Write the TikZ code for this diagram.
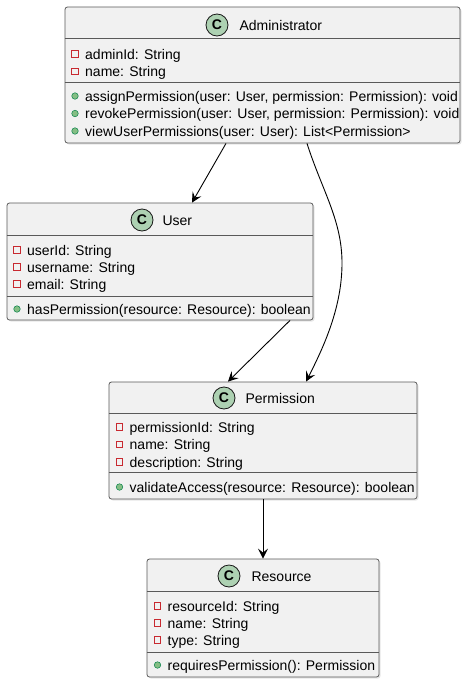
\documentclass[tikz,border=0pt]{standalone}
\usepackage{fontspec}
\setmainfont{Liberation Sans}
\usetikzlibrary{arrows.meta, positioning, shadows}

\definecolor{boxfill}{HTML}{F1F1F1}
\definecolor{boxline}{HTML}{181818}
\definecolor{iconfill}{HTML}{ADD1B2}
\definecolor{privred}{HTML}{C82930}
\definecolor{pubfill}{HTML}{84BE84}
\definecolor{publine}{HTML}{038048}

\begin{document}
\begin{tikzpicture}[
    x=1pt, y=-1pt,
    font=\fontsize{14}{16}\selectfont,
    classbox/.style={
        draw=black!65,
        fill=boxfill,
        line width=0.8pt,
        rounded corners=2.5pt,
        inner sep=0pt,
        drop shadow={shadow xshift=1.5pt, shadow yshift=-1.5pt, opacity=0.2}
    },
    sepline/.style={draw=black!65, line width=0.8pt},
    classicon/.style={
        circle,
        draw=boxline,
        fill=iconfill,
        line width=0.8pt,
        minimum size=22pt,
        inner sep=0pt,
        font=\fontsize{14}{16}\selectfont\bfseries
    },
    member/.style={anchor=west, inner sep=0pt, text height=10pt, text depth=0pt},
    privmark/.style={draw=privred, line width=0.7pt, minimum size=6.5pt, inner sep=0pt},
    pubmark/.style={circle, draw=publine, fill=pubfill, line width=0.5pt, minimum size=6.5pt, inner sep=0pt},
    assoc/.style={
        -{Stealth[length=10pt, width=10pt, inset=4pt]},
        line width=0.9pt,
        draw=black
    }
]
    \useasboundingbox (0,0) rectangle (468,683);

    % --- A. ADMINISTRATOR (Top) ---
    \node[classbox, minimum width=395pt, minimum height=136pt] (admin) at (262.5,75) {};
    \draw[sepline] (admin.west |- 0,38) -- (admin.east |- 0,38);
    \draw[sepline] (admin.west |- 0,82) -- (admin.east |- 0,82);
    \node[classicon] (adminicon) at (217,25) {C};
    \node[member, right=11pt of adminicon] (adminname) {Administrator};

    \node[privmark] (adminm1) at (75,54) {};
    \node[member] (admina1) at (85,54) {adminId: String};
    \node[privmark] (adminm2) at (75,71.5) {};
    \node[member] (admina2) at (85,71.5) {name: String};
    \node[pubmark] (adminm3) at (75,96) {};
    \node[member] (adminf1) at (85,96) {assignPermission(user: User, permission: Permission): void};
    \node[pubmark] (adminm4) at (75,113.5) {};
    \node[member] (adminf2) at (85,113.5) {revokePermission(user: User, permission: Permission): void};
    \node[pubmark] (adminm5) at (75,131) {};
    \node[member] (adminf3) at (85,131) {viewUserPermissions(user: User): List<Permission>};

    % --- B. USER (Left) ---
    \node[classbox, minimum width=306pt, minimum height=117pt] (user) at (160,261.5) {};
    \draw[sepline] (user.west |- 0,235) -- (user.east |- 0,235);
    \draw[sepline] (user.west |- 0,296) -- (user.east |- 0,296);
    \node[classicon] (usericon) at (142,220) {C};
    \node[member, right=9pt of usericon] (username) {User};

    \node[privmark] (userm1) at (17,250) {};
    \node[member] (usera1) at (27,250) {userId: String};
    \node[privmark] (userm2) at (17,267) {};
    \node[member] (usera2) at (27,267) {username: String};
    \node[privmark] (userm3) at (17,284) {};
    \node[member] (usera3) at (27,284) {email: String};
    \node[pubmark] (userm4) at (17,309) {};
    \node[member] (userf1) at (27,309) {hasPermission(resource: Resource): boolean};

    % --- C. PERMISSION (Middle) ---
    \node[classbox, minimum width=308pt, minimum height=117pt] (perm) at (263,440.5) {};
    \draw[sepline] (perm.west |- 0,413) -- (perm.east |- 0,413);
    \draw[sepline] (perm.west |- 0,472) -- (perm.east |- 0,472);
    \node[classicon] (permicon) at (224,398) {C};
    \node[member, right=10pt of permicon] (permname) {Permission};

    \node[privmark] (permm1) at (119.5,427) {};
    \node[member] (perma1) at (129.5,427) {permissionId: String};
    \node[privmark] (permm2) at (119.5,444.5) {};
    \node[member] (perma2) at (129.5,444.5) {name: String};
    \node[privmark] (permm3) at (119.5,462) {};
    \node[member] (perma3) at (129.5,462) {description: String};
    \node[pubmark] (permm4) at (119.5,487) {};
    \node[member] (permf1) at (129.5,487) {validateAccess(resource: Resource): boolean};

    % --- D. RESOURCE (Bottom) ---
    \node[classbox, minimum width=232pt, minimum height=118pt] (res) at (263,618) {};
    \draw[sepline] (res.west |- 0,591) -- (res.east |- 0,591);
    \draw[sepline] (res.west |- 0,652) -- (res.east |- 0,652);
    \node[classicon] (resicon) at (229,576) {C};
    \node[member, right=11pt of resicon] (resname) {Resource};

    \node[privmark] (resm1) at (157.5,606) {};
    \node[member] (resa1) at (167.5,606) {resourceId: String};
    \node[privmark] (resm2) at (157.5,623) {};
    \node[member] (resa2) at (167.5,623) {name: String};
    \node[privmark] (resm3) at (157.5,640) {};
    \node[member] (resa3) at (167.5,640) {type: String};
    \node[pubmark] (resm4) at (157.5,665) {};
    \node[member] (resf1) at (167.5,665) {requiresPermission(): Permission};

    % ASSOCIATIONS
    \draw[assoc] ([xshift=-36.5pt]admin.south) -- ([xshift=32pt]user.north);
    \draw[assoc] ([xshift=130pt]user.south) -- ([xshift=-35pt]perm.north);
    \coordinate (bend) at (342,263);
    \draw[assoc] ([xshift=44.5pt]admin.south) .. controls +(15,47) and +(0,-43) .. (bend)
        .. controls +(0,43) and +(19,-37) .. ([xshift=43pt]perm.north);
    \draw[assoc] (perm.south) -- (res.north);

\end{tikzpicture}
\end{document}
